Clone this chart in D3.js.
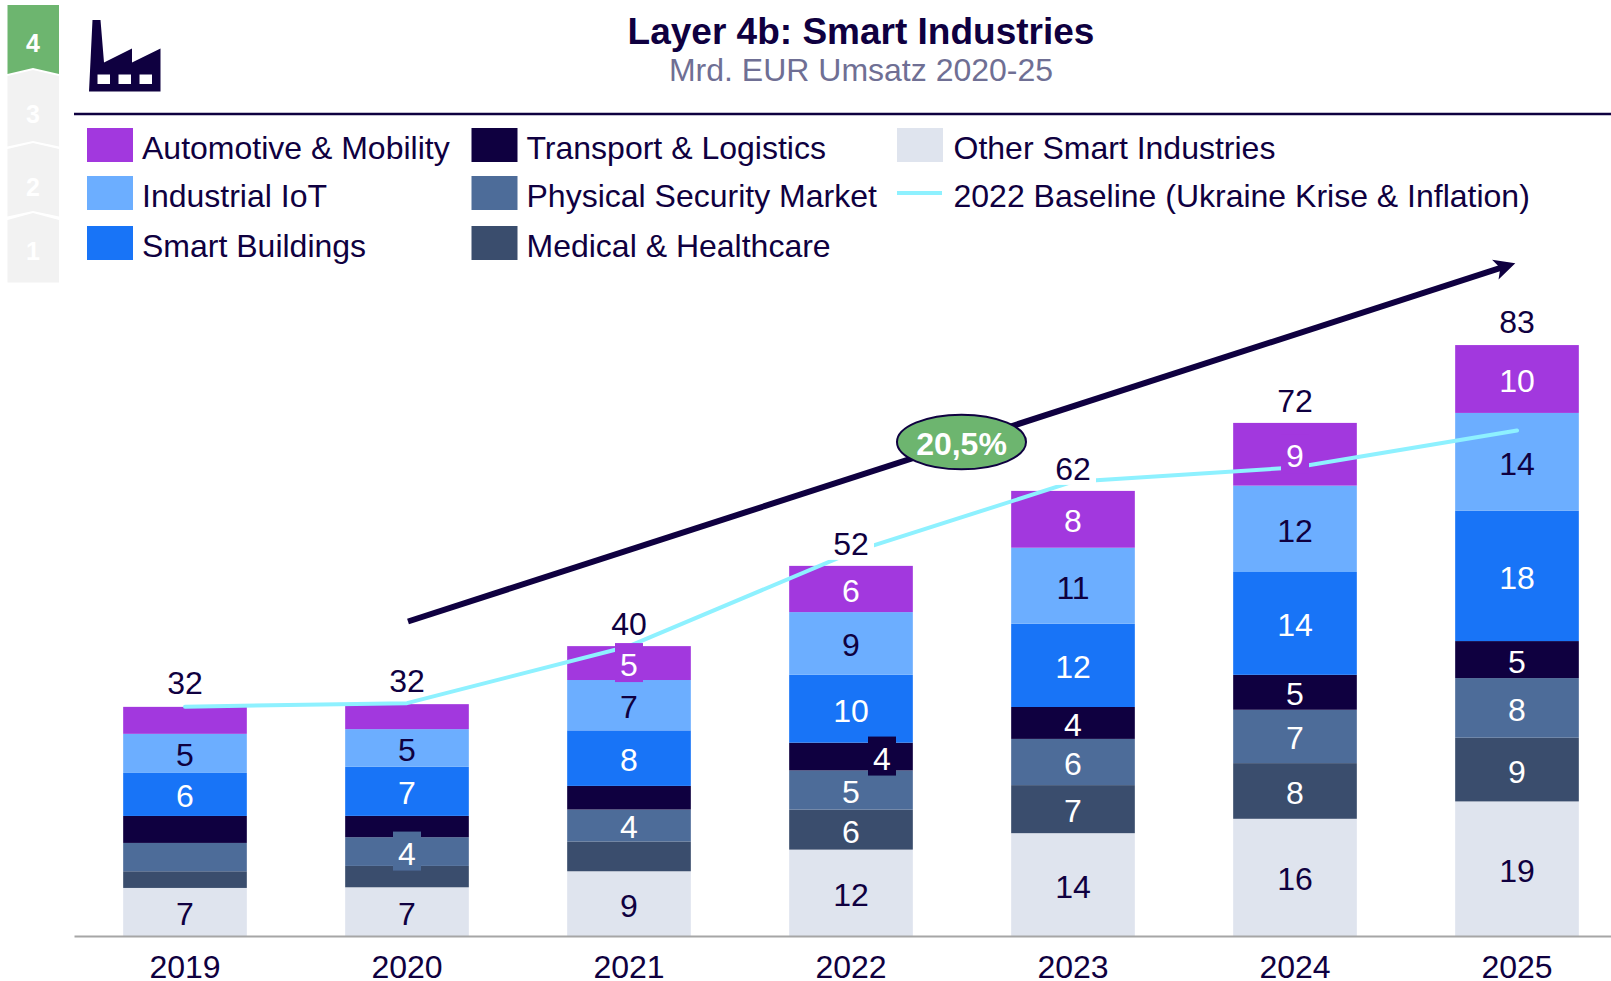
<!DOCTYPE html>
<html><head>
<meta charset="utf-8">
<script src="https://d3js.org/d3.v7.min.js"></script>
<style>
  html, body { margin: 0; padding: 0; background: #fff; overflow: hidden; }
  text { font-family: "Liberation Sans", Arial, sans-serif; }
</style>
</head>
<body>
<script>
  // chart data (Mrd. EUR)
  const years = ["2019", "2020", "2021", "2022", "2023", "2024", "2025"]
  const other = [6.75, 6.84, 9.09, 12.13, 14.44, 16.46, 18.9]
  const medical = [2.34, 3.0, 4.19, 5.63, 6.75, 7.82, 8.95]
  const security = [3.98, 4.03, 4.48, 5.49, 6.49, 7.49, 8.37]
  const transport = [3.79, 3.0, 3.32, 3.9, 4.48, 4.91, 5.2]
  const buildings = [6.04, 6.89, 7.8, 9.53, 11.69, 14.44, 18.33]
  const iot = [5.49, 5.29, 7.07, 8.81, 10.68, 12.13, 13.71]
  const automotive = [3.79, 3.51, 4.76, 6.49, 7.98, 8.81, 9.53]
  const totals = [32, 32, 40, 52, 62, 72, 83]
  const baseline = [32.2, 32.7, 40.7, 53.85, 63.8, 65.8, 71]

  const seriesNames = ["Other Smart Industries", "Medical & Healthcare", "Physical Security Market",
    "Transport & Logistics", "Smart Buildings", "Industrial IoT", "Automotive & Mobility"]
  const seriesValues = [other, medical, security, transport, buildings, iot, automotive]
  const seriesColors = ["#dfe4ee", "#3a4d6d", "#4d6c99", "#0f0040", "#1874f7", "#6caeff", "#a238de"]
  const labelColors = ["#0f0040", "#fff", "#fff", "#fff", "#fff", "#0f0040", "#fff"]

  // segments too thin for a label in the original, as "year|series"
  const unlabelled = ["2019|Medical & Healthcare", "2019|Physical Security Market", "2019|Transport & Logistics",
    "2019|Automotive & Mobility", "2020|Medical & Healthcare", "2020|Transport & Logistics",
    "2020|Automotive & Mobility", "2021|Medical & Healthcare", "2021|Transport & Logistics"]
  // labels that sit on a small box of their segment colour
  const boxedLabels = ["2020|Physical Security Market", "2021|Automotive & Mobility",
    "2022|Transport & Logistics", "2024|Automotive & Mobility"]
  const boxedTotals = ["2022", "2023"]
  // hand placed total labels
  const totalNudge = {"2019": -2, "2020": -1.5, "2025": -1}

  const navy = "#0f0040"
  const green = "#6db56f"
  const cyan = "#8ef1ff"

  const svg = d3.select("body").append("svg")
    .attr("width", 1611).attr("height", 981)

  svg.append("defs").append("marker")
    .attr("id", "arrowhead")
    .attr("viewBox", "0 0 10 10").attr("refX", 5).attr("refY", 5)
    .attr("markerUnits", "userSpaceOnUse")
    .attr("markerWidth", 24).attr("markerHeight", 21)
    .attr("orient", "auto")
    .append("path").attr("d", "M0,0 L10,5 L0,10 L2.5,5 Z").attr("fill", navy)

  // layer rail on the left
  const railSteps = [
    {n: "4", d: "M7.5,5 H59 V74 L33,68 L7.5,74 Z", fill: green, ty: 43},
    {n: "3", d: "M7.5,76 L33,70 L59,76 V146.5 L33,141 L7.5,146.5 Z", fill: "#f2f2f2", ty: 114},
    {n: "2", d: "M7.5,149 L33,143 L59,149 V216.5 L33,211 L7.5,216.5 Z", fill: "#f2f2f2", ty: 187},
    {n: "1", d: "M7.5,220 L33,213 L59,220 V282.5 H7.5 Z", fill: "#f2f2f2", ty: 251}
  ]
  const rail = svg.append("g")
  rail.selectAll("path").data(railSteps).join("path")
    .attr("d", d => d.d).attr("fill", d => d.fill)
  rail.selectAll("text").data(railSteps).join("text")
    .attr("x", 33).attr("y", d => d.ty)
    .attr("text-anchor", "middle").attr("dominant-baseline", "central")
    .style("font-size", "25px").style("font-weight", "bold").attr("fill", "#fff")
    .text(d => d.n)

  // factory icon
  svg.append("path")
    .attr("fill", navy).attr("fill-rule", "evenodd")
    .attr("d", "M92.5,20 H100.5 L104,62.5 L132,48.5 V62.5 L160.5,48.5 V91.5 H89 Z" +
      " M97.5,74.5 V84 H110 V74.5 Z M118.5,74.5 V84 H131 V74.5 Z M139.5,74.5 V84 H152 V74.5 Z")

  // title
  svg.append("text").attr("x", 861).attr("y", 31)
    .attr("text-anchor", "middle").attr("dominant-baseline", "central")
    .style("font-size", "37px").style("font-weight", "bold").attr("fill", navy)
    .text("Layer 4b: Smart Industries")
  svg.append("text").attr("x", 861).attr("y", 70)
    .attr("text-anchor", "middle").attr("dominant-baseline", "central")
    .style("font-size", "32px").attr("fill", "#6f6f94")
    .text("Mrd. EUR Umsatz 2020-25")
  svg.append("line").attr("x1", 74).attr("x2", 1611).attr("y1", 114).attr("y2", 114)
    .attr("stroke", navy).attr("stroke-width", 2.5)

  // legend
  const legendItems = [
    {name: "Automotive & Mobility", x: 87, y: 145},
    {name: "Industrial IoT", x: 87, y: 193},
    {name: "Smart Buildings", x: 87, y: 243},
    {name: "Transport & Logistics", x: 471.5, y: 145},
    {name: "Physical Security Market", x: 471.5, y: 193},
    {name: "Medical & Healthcare", x: 471.5, y: 243},
    {name: "Other Smart Industries", x: 897, y: 145}
  ]
  const legend = svg.append("g")
  legend.selectAll("rect").data(legendItems).join("rect")
    .attr("x", d => d.x).attr("y", d => d.y - 17)
    .attr("width", 46).attr("height", 34)
    .attr("fill", d => seriesColors[seriesNames.indexOf(d.name)])
  legend.selectAll("text").data(legendItems).join("text")
    .attr("x", d => d.x + (d.x > 800 ? 56.5 : 55)).attr("y", d => d.y + 3)
    .attr("dominant-baseline", "central")
    .style("font-size", "32px").attr("fill", navy)
    .text(d => d.name)
  legend.append("line").attr("x1", 897).attr("x2", 942).attr("y1", 193).attr("y2", 193)
    .attr("stroke", cyan).attr("stroke-width", 4)
  legend.append("text").attr("x", 953.5).attr("y", 196)
    .attr("dominant-baseline", "central")
    .style("font-size", "32px").attr("fill", navy)
    .text("2022 Baseline (Ukraine Krise & Inflation)")

  // scales
  const x = d3.scaleBand().domain(years).range([74, 1628]).paddingInner(0.443).paddingOuter(0.2215)
  const y = d3.scaleLinear().domain([0, 83]).range([936, 345])
  const center = d => x(d) + x.bandwidth() / 2

  // stacked bars
  const rows = years.map((yr, i) => {
    const row = {year: yr}
    seriesNames.forEach((s, j) => { row[s] = seriesValues[j][i] })
    return row
  })
  const stacked = d3.stack().keys(seriesNames)(rows)

  const layers = svg.append("g").selectAll("g").data(stacked).join("g")
    .attr("fill", (d, i) => seriesColors[i])
  layers.selectAll("rect").data(d => d).join("rect")
    .attr("x", d => x(d.data.year))
    .attr("y", d => y(d[1]))
    .attr("width", x.bandwidth())
    .attr("height", d => y(d[0]) - y(d[1]))

  // axis
  const axis = svg.append("g").attr("transform", `translate(0,${y(0)})`)
    .call(d3.axisBottom(x).tickSize(0).tickPadding(19.5))
  axis.select(".domain").attr("stroke", "#a6a6a6").attr("stroke-width", 2)
  axis.selectAll("text").style("font-size", "32px")
    .style("font-family", '"Liberation Sans", Arial, sans-serif').attr("fill", navy)

  // CAGR arrow
  svg.append("line")
    .attr("x1", 408).attr("y1", 621.5).attr("x2", 1505.3).attr("y2", 266.4)
    .attr("stroke", navy).attr("stroke-width", 6)
    .attr("marker-end", "url(#arrowhead)")
  svg.append("ellipse").attr("cx", 961.5).attr("cy", 442).attr("rx", 64.5).attr("ry", 27.3)
    .attr("fill", green).attr("stroke", navy).attr("stroke-width", 2)
  svg.append("text").attr("x", 961.5).attr("y", 444)
    .attr("text-anchor", "middle").attr("dominant-baseline", "central")
    .style("font-size", "32px").style("font-weight", "bold").attr("fill", "#fff")
    .text("20,5%")

  // baseline line
  const baselineLine = d3.line()
    .x((d, i) => center(years[i]))
    .y(d => y(d))
  svg.append("path").datum(baseline)
    .attr("d", baselineLine)
    .attr("fill", "none").attr("stroke", cyan).attr("stroke-width", 4)
    .attr("stroke-linecap", "round").attr("stroke-linejoin", "round")

  // segment labels
  const segments = stacked.flatMap((layer, j) => layer.map((d, i) => ({
    key: d.data.year + "|" + layer.key,
    year: d.data.year,
    value: seriesValues[j][i],
    mid: y((d[0] + d[1]) / 2),
    color: seriesColors[j],
    textColor: labelColors[j]
  }))).filter(d => !unlabelled.includes(d.key))

  const labelX = d => center(d.year) + (d.key === "2022|Transport & Logistics" ? 31 : 0)
  const labelY = d => d.mid + (d.key === "2022|Transport & Logistics" ? 0 : 0)

  svg.append("g").selectAll("rect")
    .data(segments.filter(d => boxedLabels.includes(d.key))).join("rect")
    .attr("x", d => labelX(d) - 14).attr("y", d => labelY(d) - 20)
    .attr("width", 28).attr("height", 39)
    .attr("fill", d => d.color)

  svg.append("g").selectAll("text").data(segments).join("text")
    .attr("x", labelX).attr("y", d => labelY(d) + 2)
    .attr("text-anchor", "middle").attr("dominant-baseline", "central")
    .style("font-size", "32px").attr("fill", d => d.textColor)
    .text(d => Math.round(d.value))

  // totals above the bars
  const totalRows = years.map((yr, i) => ({year: yr, total: totals[i], top: d3.sum(seriesValues, s => s[i])}))
  svg.append("g").selectAll("rect")
    .data(totalRows.filter(d => boxedTotals.includes(d.year))).join("rect")
    .attr("x", d => center(d.year) - 23).attr("y", d => y(d.top) - 44)
    .attr("width", 46).attr("height", 38)
    .attr("fill", "#fff")
  svg.append("g").selectAll("text").data(totalRows).join("text")
    .attr("x", d => center(d.year)).attr("y", d => y(d.top) - 22 + (totalNudge[d.year] || 0))
    .attr("text-anchor", "middle").attr("dominant-baseline", "central")
    .style("font-size", "32px").attr("fill", navy)
    .text(d => d.total)
</script>
</body></html>
